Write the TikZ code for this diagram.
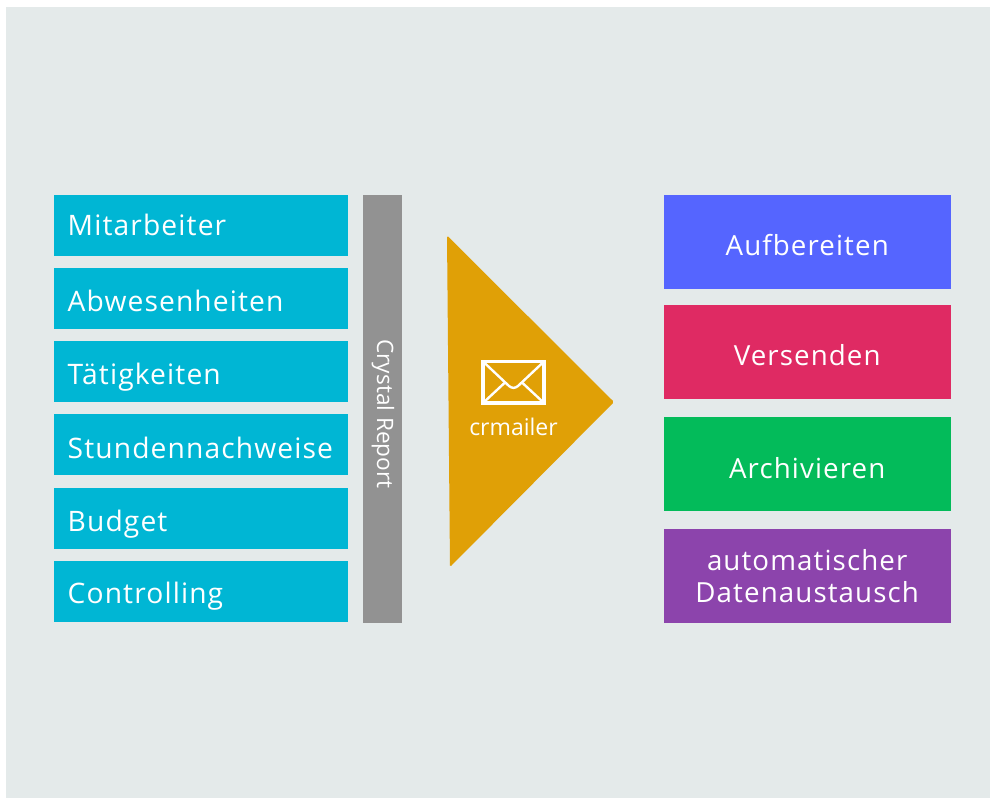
\documentclass[tikz,border=0pt]{standalone}
\usepackage{fontspec}
\setmainfont{Open Sans}
\newfontfamily\spaced[LetterSpace=4]{Open Sans}
\definecolor{bgc}{HTML}{E4EAEA}
\definecolor{cyanb}{HTML}{00B6D4}
\definecolor{grayb}{HTML}{929292}
\definecolor{gold}{HTML}{E0A006}
\definecolor{blueb}{HTML}{5565FF}
\definecolor{redb}{HTML}{DF2A63}
\definecolor{greenb}{HTML}{03BB5A}
\definecolor{purpleb}{HTML}{8C44AC}
\tikzset{
  leftbox/.style={fill=cyanb,anchor=north west,minimum width=294.5pt,text width=266.5pt,inner xsep=14pt,inner ysep=0pt,minimum height=61pt,text height=#1,text depth=4pt,text=white,font=\spaced\fontsize{28.2}{32}\selectfont,align=left},
  rightbox/.style={anchor=north west,minimum width=287pt,text width=281pt,inner xsep=3pt,inner ysep=0pt,minimum height=94pt,text=white,font=\spaced\fontsize{27.7}{32}\selectfont,align=center},
  oneline/.style={text height=#1,text depth=5pt},
}
\begin{document}
\begin{tikzpicture}[x=1pt,y=-1pt]
\useasboundingbox (0,0) rectangle (990,799);
\fill[white] (0,0) rectangle (990,799);
\fill[bgc] (6,7) rectangle (990,798);
\node[leftbox=24pt] (m) at (53.5,195) {Mitarbeiter};
\node[leftbox=30pt] (a) at (53.5,267.5) {Abwesenheiten};
\node[leftbox=30pt] (t) at (53.5,341) {Tätigkeiten};
\node[leftbox=32pt] (s) at (53.5,413.5) {Stundennachweise};
\node[leftbox=30pt] (b) at (53.5,488) {Budget};
\node[leftbox=28pt] (c) at (53.5,561) {Controlling};
\node[fill=grayb,anchor=north west,minimum width=39.5pt,minimum height=428pt,inner sep=0pt] (cr) at (362.5,195) {};
\node[rotate=-90,text=white,font=\fontsize{22.6}{26}\selectfont,inner sep=0pt] (crt) at (383,414) {Crystal Report};
\fill[gold,rounded corners=1.5pt] (447,235.5) -- (614,402) -- (450,567) -- cycle;
\draw[white,line width=3.4pt,line join=miter] (483,361.5) rectangle (544,403);
\draw[white,line width=2.4pt,line join=round] (483,361.5) -- (509,386) .. controls (512,388.5) and (515,388.5) .. (518,386) -- (544,361.5);
\draw[white,line width=2.4pt] (483,403) -- (505,382.5);
\draw[white,line width=2.4pt] (544,403) -- (522,382.5);
\node[text=white,font=\fontsize{23}{26}\selectfont,inner sep=0pt] (cm) at (513.5,427) {crmailer};
\node[rightbox,oneline=31pt,fill=blueb] (r1) at (663.5,195) {Aufbereiten};
\node[rightbox,oneline=33pt,fill=redb] (r2) at (663.5,304.5) {Versenden};
\node[rightbox,oneline=33pt,fill=greenb] (r3) at (663.5,417) {Archivieren};
\node[rightbox,fill=purpleb] (r4) at (663.5,528.5) {automatischer\\Datenaustausch};
\end{tikzpicture}
\end{document}
